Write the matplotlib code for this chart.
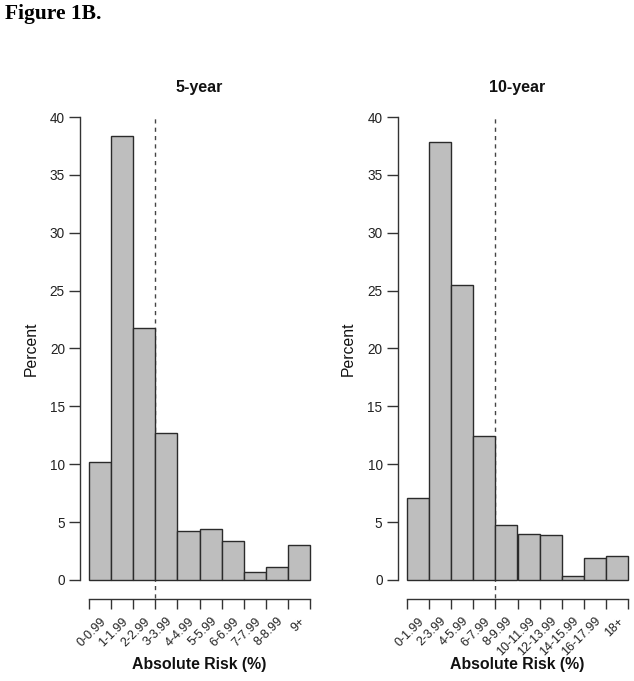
import numpy as np
import matplotlib
matplotlib.use("Agg")
import matplotlib.pyplot as plt

plt.rcParams['font.family'] = ['Liberation Sans', 'DejaVu Sans']

#==================================================
# data (percent of subjects per risk category)

labels_5yr = ['0-0.99', '1-1.99', '2-2.99', '3-3.99', '4-4.99',
              '5-5.99', '6-6.99', '7-7.99', '8-8.99', '9+']
pct_5yr = [10.2, 38.4, 21.8, 12.7, 4.2, 4.4, 3.4, 0.65, 1.1, 3.0]
cut_5yr = 3     # dashed line at bin edge (3%)

labels_10yr = ['0-1.99', '2-3.99', '4-5.99', '6-7.99', '8-9.99',
               '10-11.99', '12-13.99', '14-15.99', '16-17.99', '18+']
pct_10yr = [7.05, 37.8, 25.45, 12.4, 4.75, 4.0, 3.9, 0.35, 1.9, 2.1]
cut_10yr = 4    # dashed line at bin edge (8%)

yticks = [0, 5, 10, 15, 20, 25, 30, 35, 40]

#==================================================

W, H = 634, 681
fig = plt.figure(figsize=(W/100, H/100), dpi=100)

def panel(rect, values, labels, cut, title):

	ax = fig.add_axes([rect[0]/W, 1 - rect[3]/H, (rect[2]-rect[0])/W, (rect[3]-rect[1])/H])
	n = len(values)
	edges = np.arange(n)

	ax.bar(edges, values, width=1, align='edge', color='#bebebe',
	       edgecolor='#2b2b2b', linewidth=1.0, zorder=2)
	ax.plot([cut, cut], [-1.6, 40.2], linestyle=(0, (3, 3)), color='#444444',
	        linewidth=1.0, zorder=1, clip_on=False)

	ax.set_xlim(-0.4, n + 0.4)
	ax.set_ylim(-1.6, 41.6)

	for s in ['top', 'right']:
		ax.spines[s].set_visible(False)
	ax.spines['left'].set_bounds(0, 40)
	ax.spines['bottom'].set_bounds(0, n)
	for s in ['left', 'bottom']:
		ax.spines[s].set_color('#333333')
		ax.spines[s].set_linewidth(1.0)

	ax.set_yticks(yticks)
	ax.set_yticklabels([str(v) for v in yticks], fontsize=9.8, color='#222222')
	ax.tick_params(axis='y', length=8, width=1.0, color='#333333', pad=3)

	# ticks at bin edges, rotated labels hung from the bin centres
	ax.set_xticks(np.arange(n + 1))
	ax.set_xticklabels([])
	ax.tick_params(axis='x', which='major', length=7, width=1.0, color='#333333')
	ax.set_xticks(np.arange(n) + 0.5, minor=True)
	ax.set_xticklabels(labels, minor=True, rotation=45, ha='right',
	                   rotation_mode='anchor', fontsize=9.0, color='#222222')
	ax.tick_params(axis='x', which='minor', length=0, pad=12)

	ax.set_title(title, fontsize=11.5, fontweight='bold', pad=4.5, color='#111111')
	ax.set_ylabel('Percent', fontsize=11.3, labelpad=8, color='#111111')
	ax.set_xlabel('Absolute Risk (%)', fontsize=11.4, fontweight='bold',
	              color='#111111', va='center')
	ax.xaxis.set_label_coords(0.5, (598.5 - 665) / 500)
	return ax

panel((80.2, 98.5, 318.8, 598.5), pct_5yr, labels_5yr, cut_5yr, '5-year')
panel((397.8, 98.5, 637.2, 598.5), pct_10yr, labels_10yr, cut_10yr, '10-year')

fig.text(5/W, 1 - 14/H, 'Figure 1B.', fontsize=15.5, fontweight='bold',
         family=['Liberation Serif', 'DejaVu Serif'], va='center', ha='left')

fig.savefig('out.png', dpi=100)
